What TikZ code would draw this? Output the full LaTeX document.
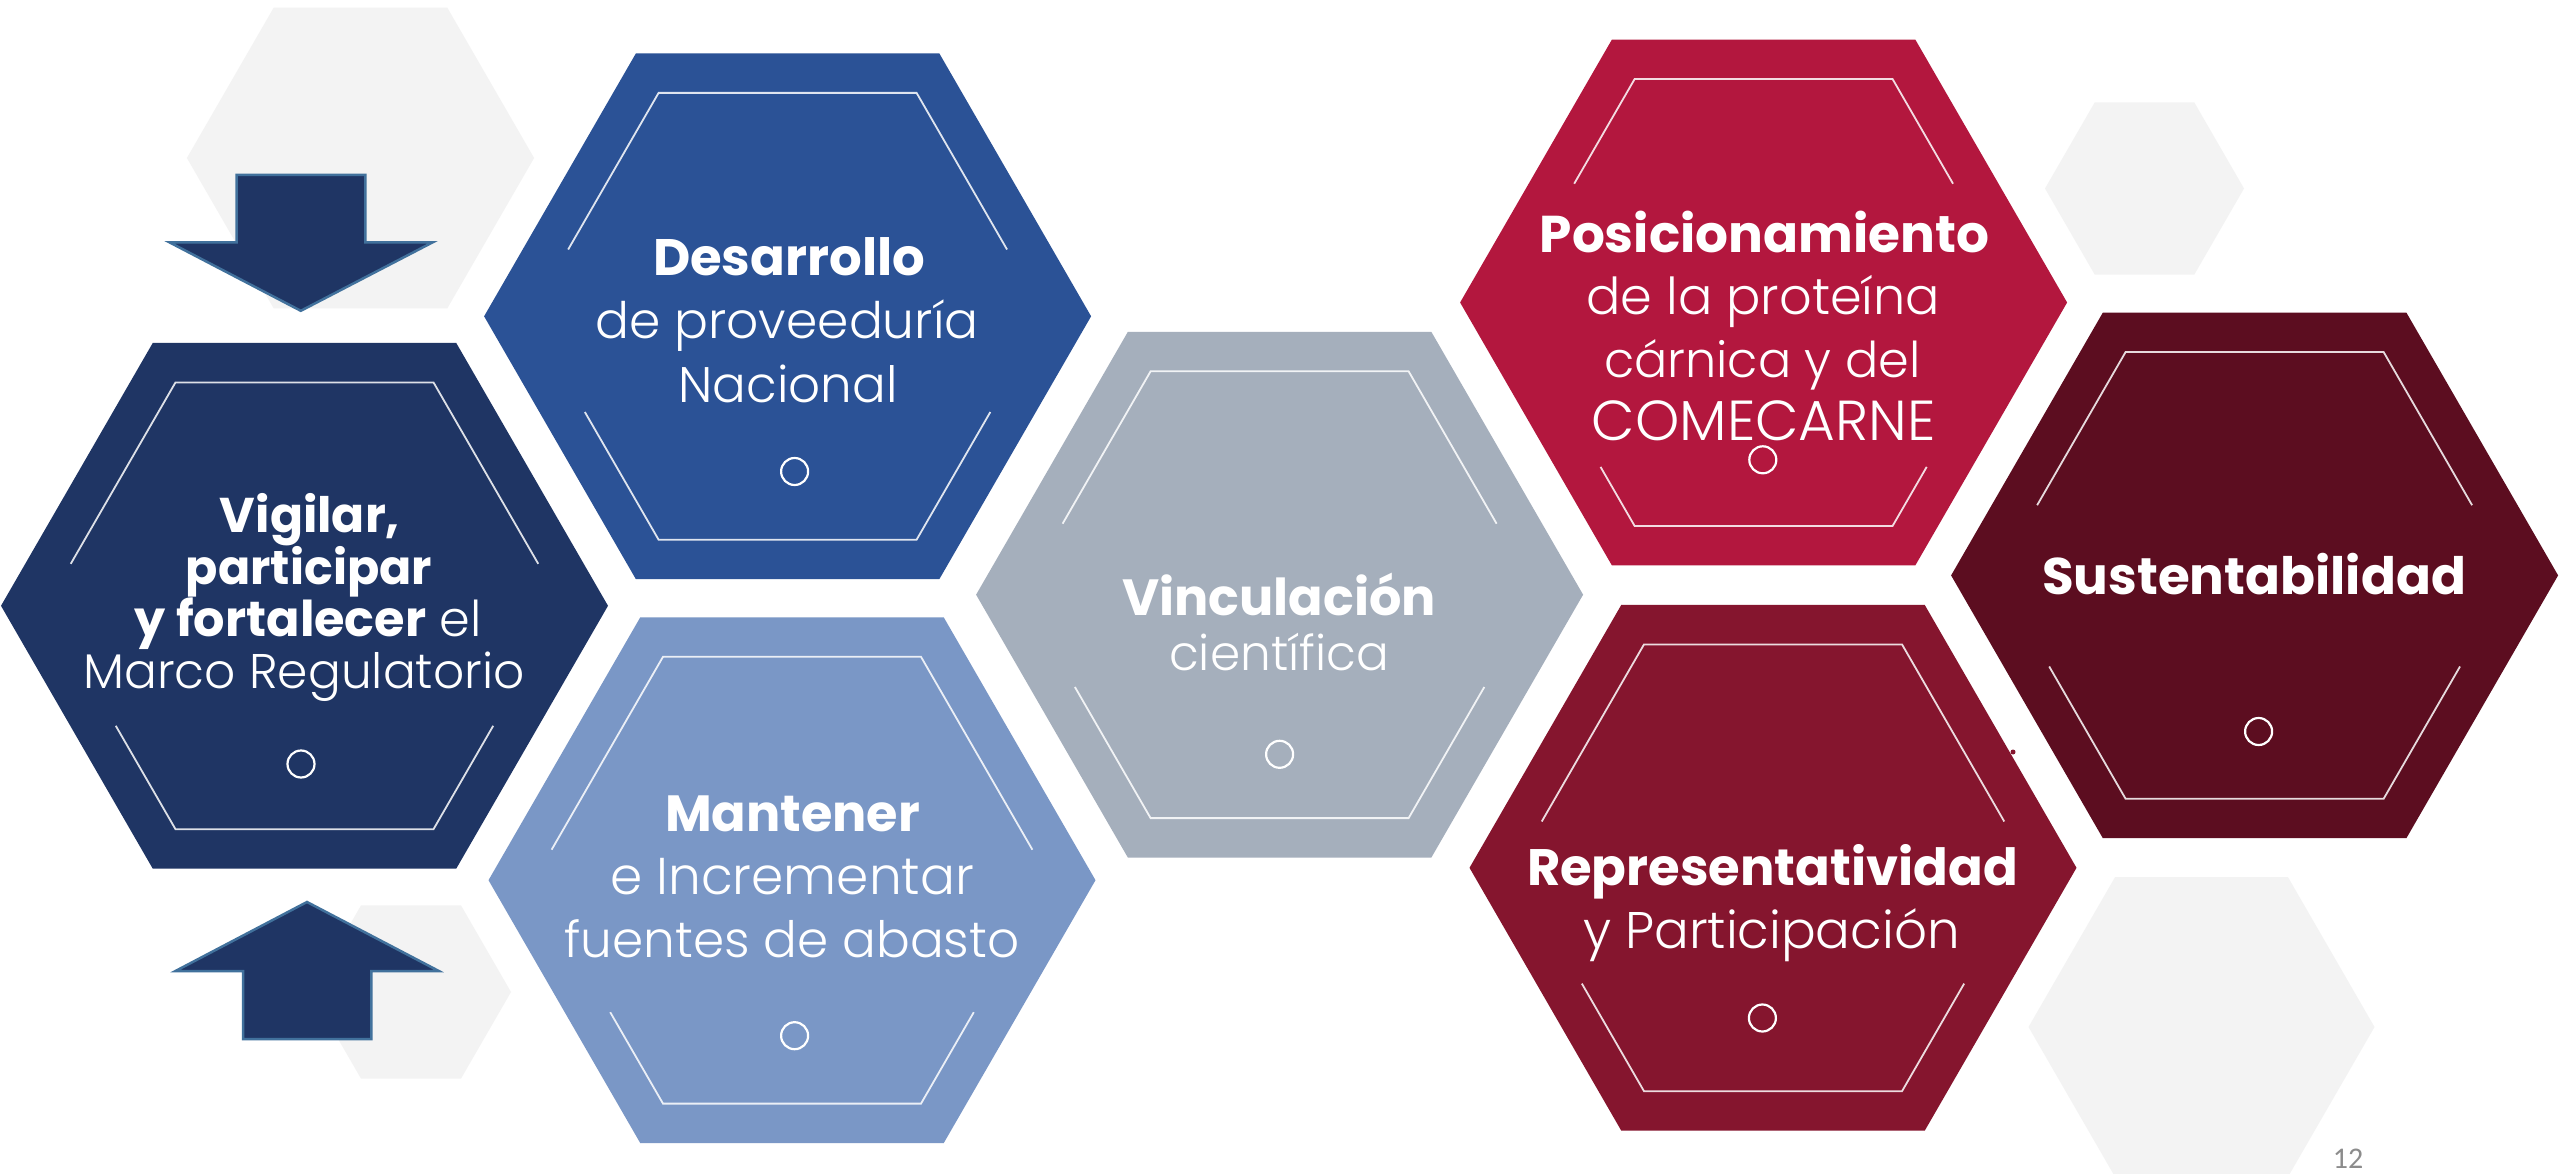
\documentclass[tikz,border=0pt]{standalone}
\usepackage{graphicx}
\usepackage{fontspec}
\setmainfont{Poppins}
\IfFontExistsTF{Poppins Light}{\newfontfamily\lightfont{Poppins Light}}{\newfontfamily\lightfont{Poppins}}
\newfontfamily\pagefont{Carlito}
\definecolor{cNavy}{HTML}{1F3564}
\definecolor{cBlue}{HTML}{2B5296}
\definecolor{cLight}{HTML}{7A97C6}
\definecolor{cGray}{HTML}{A5AFBC}
\definecolor{cCrim}{HTML}{B3173E}
\definecolor{cMaroon}{HTML}{85152E}
\definecolor{cDark}{HTML}{5C0D20}
\definecolor{cBg}{HTML}{F3F3F3}
\definecolor{cArrow}{HTML}{41719C}
\definecolor{cPage}{HTML}{8C8C8C}
\newcommand\fs[1]{\fontsize{#1}{#1}\selectfont}
\newcommand\fitw[2]{\resizebox{#1pt}{!}{#2}}
\begin{document}
\begin{tikzpicture}[x=1pt,y=-1pt,
  inner/.style={draw=white,line width=1.8pt,draw opacity=0.85},
  ring/.style={draw=white,line width=2.2pt},
  tl/.style={text=white,anchor=base,inner sep=0pt},
  tb/.style={tl,font=\bfseries\fs{52}},
  tt/.style={tl,font=\lightfont\fs{50}},
  bigarrow/.style={fill=cNavy,draw=cArrow,line width=2.5pt,line join=miter}]
\fill[white] (0,0) rectangle (2560,1174);
\useasboundingbox (0,0) rectangle (2560,1174);
% light background hexagons
\foreach \gx/\gy/\gr in {360.5/158/173.6, 411/992/100, 2144.5/188.5/99.5, 2201.5/1027/173}
  {\fill[cBg, shift={(\gx,\gy)}] (0:\gr) -- (60:\gr) -- (120:\gr) -- (180:\gr) -- (240:\gr) -- (300:\gr) -- cycle;}
% arrows
\draw[bigarrow] (236.7,174.9) -- (365.3,174.9) -- (365.3,242.3) -- (432.7,242.3) -- (300.8,310.8) -- (169.4,242.3) -- (236.7,242.3) -- cycle;
\draw[bigarrow] (243,1039) -- (371.4,1039) -- (371.4,971) -- (438.8,971) -- (307,902) -- (175.5,971) -- (243,971) -- cycle;
% main hexagons
\foreach \nm/\cx/\cy/\col/\du/\dl/\ox/\oy in {
  vig/304.5/605.8/cNavy/42/120/301/764,
  des/787.6/316.3/cBlue/66.8/95.7/794.6/471.5,
  man/792/880.2/cLight/30.5/132/794.6/1035.7,
  vin/1279.6/594.7/cGray/71/92.3/1279.6/754.3,
  pos/1763.6/302.5/cCrim/118.8/164.4/1762.8/459.8,
  rep/1773/867.8/cMaroon/46.3/115.8/1762.4/1018,
  sus/2254.6/575.4/cDark/70.2/91.1/2258.6/731.5}
{
  \fill[\col, shift={(\cx,\cy)}] (0:303.5) -- (60:303.5) -- (120:303.5) -- (180:303.5) -- (240:303.5) -- (300:303.5) -- cycle;
  \coordinate (\nm) at (\cx,\cy);
  \draw[inner] ({\cx-258+\du/1.732},{\cy-\du}) -- ({\cx-129},{\cy-223.4}) -- ({\cx+129},{\cy-223.4}) -- ({\cx+258-\du/1.732},{\cy-\du});
  \draw[inner] ({\cx-258+\dl/1.732},{\cy+\dl}) -- ({\cx-129},{\cy+223.4}) -- ({\cx+129},{\cy+223.4}) -- ({\cx+258-\dl/1.732},{\cy+\dl});
  \draw[ring] (\ox,\oy) circle[radius=13.5pt];
}
\fill[cMaroon] (2013,752) circle[radius=2.5pt];
% texts
\node[tb] (vig1) at (310,532) {\fitw{180}{Vigilar,}};
\node[tb] (vig2) at (309,584) {\fitw{246}{participar}};
\node[tl,font=\fs{48}] (vig3) at (308,636) {\fitw{347}{{\bfseries y fortalecer} {\lightfont el}}};
\node[tt] (vig4) at (304,688) {\fitw{441}{Marco Regulatorio}};
\node[tb] (des1) at (789,276) {\fitw{272}{Desarrollo}};
\node[tt] (des2) at (787,338.7) {\fitw{383}{de proveeduría}};
\node[tt] (des3) at (788,402.6) {\fitw{219}{Nacional}};
\node[tb] (man1) at (792.5,831.3) {\fitw{255}{Mantener}};
\node[tt] (man2) at (792,894) {\fitw{364}{e Incrementar}};
\node[tt] (man3) at (792,957.4) {\fitw{455}{fuentes de abasto}};
\node[tb] (vin1) at (1279.2,615) {\fitw{313.6}{Vinculación}};
\node[tt] (vin2) at (1279,670.7) {\fitw{219.6}{científica}};
\node[tb] (pos1) at (1764.5,252.6) {\fitw{449.5}{Posicionamiento}};
\node[tt] (pos2) at (1763.3,314.6) {\fitw{353.5}{de la proteína}};
\node[tt] (pos3) at (1762.3,377) {\fitw{316.6}{cárnica y del}};
\node[tt] (pos4) at (1763.7,440) {\fitw{344}{COMECARNE}};
\node[tb] (rep1) at (1772.5,885.8) {\fitw{491}{Representatividad}};
\node[tt] (rep2) at (1771.4,948.8) {\fitw{376.8}{y Participación}};
\node[tb] (sus1) at (2254,594.5) {\fitw{424}{Sustentabilidad}};
\node[anchor=base,inner sep=0pt,text=cPage,font=\pagefont\fs{30}] (page) at (2348,1168) {12};
\end{tikzpicture}
\end{document}
